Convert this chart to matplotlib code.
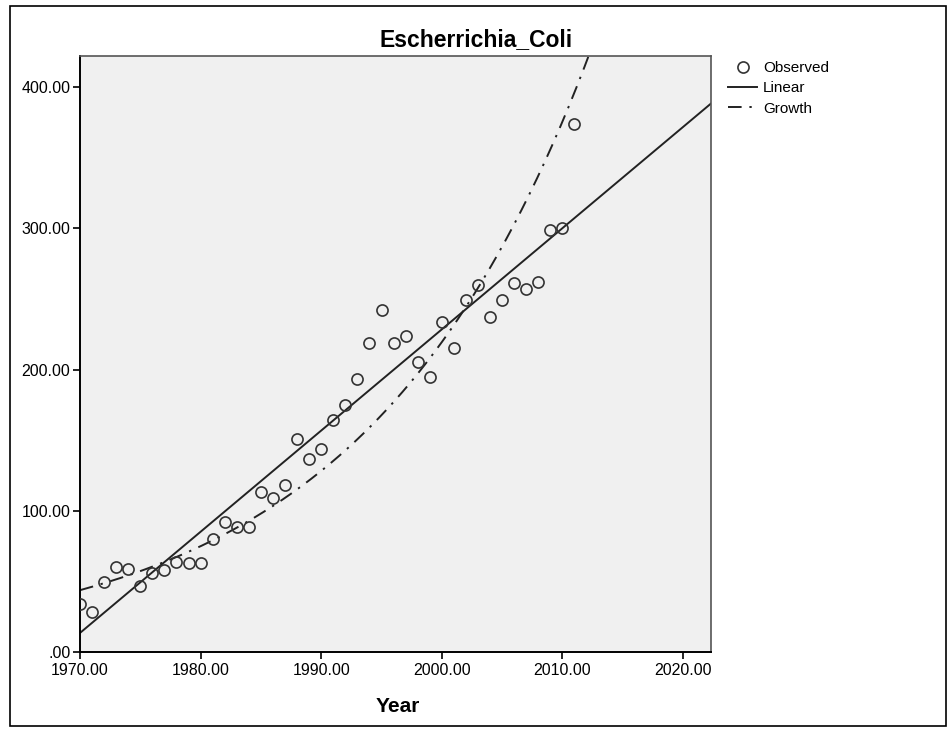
import numpy as np
from matplotlib import pyplot as plt

years = list(range(1970, 2012))
counts = [34, 28, 49.5, 60, 59, 47, 56, 58, 64, 63,
          63, 80, 92, 88.5, 88.5, 113, 109, 118, 151, 137,
          144, 164, 175, 193, 219, 242, 219, 224, 205, 195,
          234, 215, 249, 260, 237, 249, 261, 257, 262, 299,
          300, 374]
x_ticks = [1970, 1980, 1990, 2000, 2010, 2020]
y_ticks = [0, 100, 200, 300, 400]

FONT = "Liberation Sans"
BG = "#f0f0f0"
INK = "#222222"


def fmt(v):
    s = "%.2f" % v
    return s[1:] if s.startswith("0.") else s


def setup():
    fig = plt.figure(figsize=(9.51, 7.36), dpi=100)
    ax = fig.add_axes([80 / 951, 1 - 652 / 736, 631 / 951, 596 / 736])
    ax.set_facecolor(BG)
    return fig, ax


fig, ax = setup()

t = np.array(years, dtype=float)
y = np.array(counts, dtype=float)
xmax = 1970 + 631 / 12.06
grid = np.linspace(1970, xmax, 400)

# curve estimation, as SPSS does: linear and growth (ln y = b0 + b1 t)
b1, b0 = np.polyfit(t, y, 1)
g1, g0 = np.polyfit(t, np.log(y), 1)

ax.plot(grid, b0 + b1 * grid, color=INK, linewidth=1.4, label="Linear")
ax.plot(grid, np.exp(g0 + g1 * grid), color=INK, linewidth=1.4,
        linestyle=(0, (7, 4, 1.2, 4)), label="Growth")
ax.plot(t, y, "o", markersize=8, markerfacecolor="none",
        markeredgecolor="#333333", markeredgewidth=1.2, label="Observed",
        zorder=3)

ax.set_xlim(1970, xmax)
ax.set_ylim(0, 422)
ax.set_xticks(x_ticks)
ax.set_yticks(y_ticks)
ax.set_xticklabels([fmt(v) for v in x_ticks], fontfamily=FONT, fontsize=11.5)
ax.set_yticklabels([fmt(v) for v in y_ticks], fontfamily=FONT, fontsize=11.5)
ax.tick_params(length=5, width=1.2, color="black", pad=2)
ax.tick_params(axis="x", pad=3)

for side in ("left", "bottom"):
    ax.spines[side].set_color("black")
    ax.spines[side].set_linewidth(1.4)
for side in ("top", "right"):
    ax.spines[side].set_color("#555555")
    ax.spines[side].set_linewidth(1.2)

fig.text(476 / 951, 1 - 40 / 736, "Escherrichia_Coli", ha="center",
         va="center", fontfamily=FONT, fontweight="bold", fontsize=16.5)
fig.text(398 / 951, 1 - 706 / 736, "Year", ha="center", va="center",
         fontfamily=FONT, fontweight="bold", fontsize=15)

handles, labels = ax.get_legend_handles_labels()
order = [2, 0, 1]
ax.legend([handles[i] for i in order], [labels[i] for i in order],
          loc="upper left", bbox_to_anchor=(728 / 951, 1 - 61 / 736),
          bbox_transform=fig.transFigure, frameon=False,
          prop={"family": FONT, "size": 11}, handlelength=1.9,
          handletextpad=0.4, labelspacing=0.42, borderaxespad=0,
          borderpad=0)

# outer frame round the whole chart
fig.add_artist(plt.Rectangle((10 / 951, 10 / 736), 936 / 951, 720 / 736,
                             transform=fig.transFigure, fill=False,
                             edgecolor="black", linewidth=1.2))

fig.savefig("out.png", dpi=100)
